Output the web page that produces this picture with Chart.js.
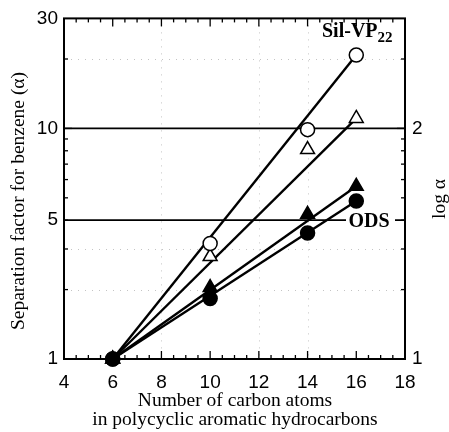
<!DOCTYPE html>
<html>
<head>
<meta charset="utf-8">
<script src="https://cdn.jsdelivr.net/npm/chart.js@4"></script>
<style>
  body { margin: 0; background: #fff; }
  #wrap { width: 449px; height: 432px; }
</style>
</head>
<body>
<div id="wrap"><canvas id="chart" width="449" height="432"></canvas></div>
<script>
// number of carbon atoms in the PAH
const carbons = [6, 10, 14, 16];

// separation factor for benzene (alpha)
const silCircle = [1, 3.17, 9.88, 20.8];    // Sil-VP22, open circles
const silTriangle = [1, 2.78, 8.10, 11.05]; // Sil-VP22, open triangles
const odsTriangle = [1, 2.04, 4.24, 5.61];  // ODS, filled triangles
const odsCircle = [1, 1.83, 3.52, 4.84];    // ODS, filled circles

// straight fit lines, alpha at x = 6 and x = 16
const fitX = [6, 16];
const fitSilCircle = [1, 20.8];
const fitSilTriangle = [1, 11.05];
const fitOdsTriangle = [1, 5.61];
const fitOdsCircle = [1, 4.84];

const xTicks = [4, 6, 8, 10, 12, 14, 16, 18];
// the original puts its "5" line where 4 sits on the log scale
const yTickValues = [1, 4, 10, 30];
const yTickLabels = ['1', '5', '10', '30'];
const y2TickValues = [1, 10];
const y2TickLabels = ['1', '2'];
const refLines = [4, 10];

const sans = 'Liberation Sans';
const serif = 'Liberation Serif';

function pts(xs, ys) {
  return xs.map((x, i) => ({ x: x, y: ys[i] }));
}

function fitLine(ys) {
  return {
    type: 'line', data: pts(fitX, ys), borderColor: '#000', borderWidth: 2.4,
    pointRadius: 0, fill: false, order: 2, clip: false
  };
}

function marks(ys, style, filled, r) {
  return {
    type: 'scatter', data: pts(carbons, ys), pointStyle: style, pointRadius: r,
    backgroundColor: filled ? '#000' : '#fff', borderColor: '#000',
    borderWidth: 1.5, order: 1, clip: false
  };
}

const frame = {
  id: 'frame',
  beforeDatasetsDraw(chart) {
    const { ctx, chartArea: a, scales } = chart;
    const x = scales.x, y = scales.y;
    const seg = (x1, y1, x2, y2) => { ctx.beginPath(); ctx.moveTo(x1, y1); ctx.lineTo(x2, y2); ctx.stroke(); };
    ctx.save();

    // faint dotted grid
    ctx.strokeStyle = '#c4c4c4';
    ctx.lineWidth = 1;
    ctx.setLineDash([1, 6]);
    [8, 12, 14].forEach(v => { const px = Math.round(x.getPixelForValue(v)) + 0.5; seg(px, a.top, px, a.bottom); });
    [2, 3, 20].forEach(v => { const py = Math.round(y.getPixelForValue(v)) + 0.5; seg(a.left, py, a.right, py); });
    ctx.setLineDash([]);

    // reference lines
    ctx.strokeStyle = '#000';
    ctx.lineWidth = 1.6;
    refLines.forEach(v => { const py = y.getPixelForValue(v); seg(a.left, py, a.right, py); });

    // inward ticks on all four sides
    ctx.lineWidth = 1.3;
    for (let v = 4; v <= 18; v += 0.5) {
      const px = x.getPixelForValue(v);
      const len = v % 2 === 0 ? 8 : 4;
      seg(px, a.bottom, px, a.bottom - len);
      seg(px, a.top, px, a.top + len);
    }
    [2, 3, 4, 5, 6, 7, 8, 9, 10, 20].forEach(v => {
      const py = y.getPixelForValue(v);
      const len = v === 10 ? 8 : 4;
      seg(a.left, py, a.left + len, py);
      seg(a.right, py, a.right - len, py);
    });

    // frame
    ctx.lineWidth = 2;
    ctx.strokeRect(a.left, a.top, a.right - a.left, a.bottom - a.top);
    ctx.restore();
  },
  afterDraw(chart) {
    const { ctx, chartArea: a, scales } = chart;
    const y = scales.y;
    ctx.save();
    ctx.fillStyle = '#000';

    // axis titles
    ctx.font = '19.5px "' + serif + '"';
    ctx.textAlign = 'center';
    ctx.textBaseline = 'middle';
    ctx.fillText('Number of carbon atoms', 235, 401);
    ctx.fillText('in polycyclic aromatic hydrocarbons', 235, 420);

    ctx.save();
    ctx.translate(19, 201);
    ctx.rotate(-Math.PI / 2);
    ctx.fillText('Separation factor for benzene (\u03b1)', 0, 0);
    ctx.restore();

    ctx.save();
    ctx.translate(440, 199);
    ctx.rotate(-Math.PI / 2);
    ctx.fillText('log \u03b1', 0, 0);
    ctx.restore();

    // series labels
    ctx.font = 'bold 20px "' + serif + '"';
    ctx.textAlign = 'left';
    ctx.textBaseline = 'alphabetic';
    ctx.fillText('Sil-VP', 322, 37);
    const w = ctx.measureText('Sil-VP').width;
    ctx.font = 'bold 15px "' + serif + '"';
    ctx.fillText('22', 322 + w, 42);

    ctx.font = 'bold 20px "' + serif + '"';
    const py = y.getPixelForValue(4);
    ctx.fillStyle = '#fff';
    ctx.fillRect(346, py - 9, 49, 18);
    ctx.fillStyle = '#000';
    ctx.textAlign = 'center';
    ctx.textBaseline = 'middle';
    ctx.fillText('ODS', 369, py + 2);
    ctx.restore();
  }
};

new Chart(document.getElementById('chart'), {
  data: {
    datasets: [
      fitLine(fitSilCircle),
      fitLine(fitSilTriangle),
      fitLine(fitOdsTriangle),
      fitLine(fitOdsCircle),
      marks(silCircle, 'circle', false, 7),
      marks(silTriangle, 'triangle', false, 8),
      marks(odsTriangle, 'triangle', true, 8),
      { ...marks(odsCircle, 'circle', true, 7), order: 0 }
    ]
  },
  options: {
    responsive: false,
    animation: false,
    layout: { padding: { top: 16, left: 0, right: 0, bottom: 0 } },
    plugins: { legend: { display: false }, tooltip: { enabled: false } },
    scales: {
      x: {
        type: 'linear', position: 'bottom', min: 4, max: 18,
        afterBuildTicks: s => { s.ticks = xTicks.map(v => ({ value: v })); },
        afterFit: s => { s.height = 73; },
        grid: { display: false, drawTicks: false },
        border: { display: false },
        ticks: { color: '#000', padding: 12, font: { family: sans, size: 19 } }
      },
      y: {
        type: 'logarithmic', position: 'left', min: 1, max: 30,
        afterBuildTicks: s => { s.ticks = yTickValues.map(v => ({ value: v })); },
        afterFit: s => { s.width = 64; },
        grid: { display: false, drawTicks: false },
        border: { display: false },
        ticks: { color: '#000', padding: 6, font: { family: sans, size: 19 },
                 callback: (v, i) => yTickLabels[i] }
      },
      y2: {
        type: 'logarithmic', position: 'right', min: 1, max: 30,
        afterBuildTicks: s => { s.ticks = y2TickValues.map(v => ({ value: v })); },
        afterFit: s => { s.width = 44; },
        grid: { display: false, drawTicks: false },
        border: { display: false },
        ticks: { color: '#000', padding: 7, font: { family: sans, size: 19 },
                 callback: (v, i) => y2TickLabels[i] }
      }
    }
  },
  plugins: [frame]
});
</script>
</body>
</html>
